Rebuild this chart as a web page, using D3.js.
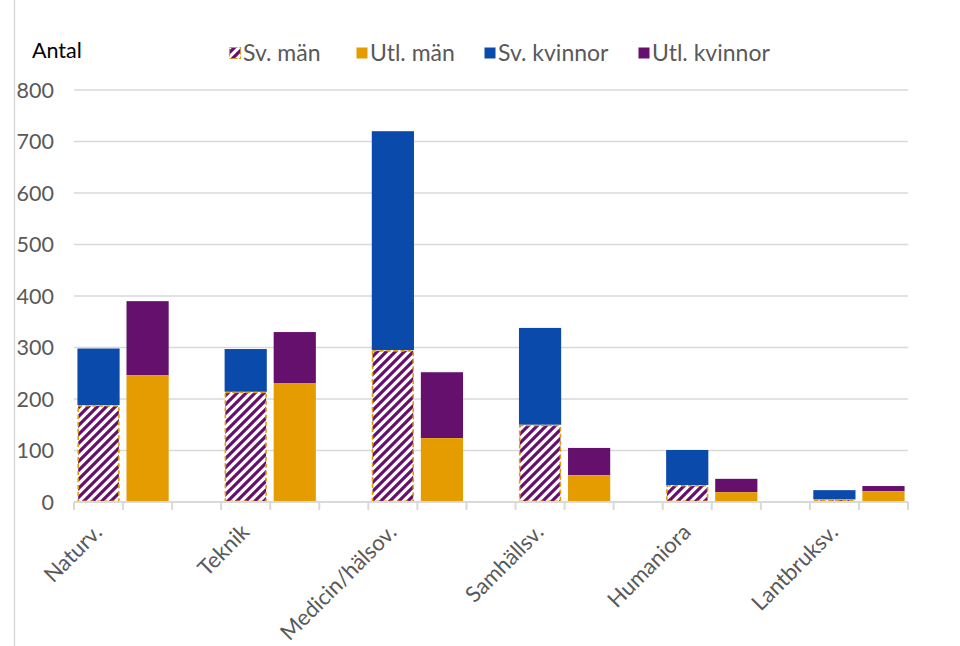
<!DOCTYPE html>
<html>
<head>
<meta charset="utf-8">
<script src="https://cdn.jsdelivr.net/npm/d3@7"></script>
<style>
  body { margin: 0; background: #fff; }
  text { font-family: Lato, "Open Sans", sans-serif; }
</style>
</head>
<body>
<div id="chart"></div>
<script>
var categories = ["Naturv.", "Teknik", "Medicin/hälsov.", "Samhällsv.", "Humaniora", "Lantbruksv."];
var svMan = [188, 214, 295, 150, 33, 5];
var svKvinnor = [110, 83, 425, 188, 68, 18];
var utlMan = [246, 231, 124, 52, 19, 21];
var utlKvinnor = [144, 99, 128, 53, 26, 10];
var yTicks = [0, 100, 200, 300, 400, 500, 600, 700, 800];
var legendLabels = ["Sv. män", "Utl. män", "Sv. kvinnor", "Utl. kvinnor"];

var colors = {orange: "#e59c00", blue: "#0a4aaa", purple: "#66106e"};

var W = 960, H = 646;
var plot = {left: 74, right: 908, top: 90, bottom: 502};

var svg = d3.select("#chart").append("svg")
  .attr("width", W).attr("height", H);

// hatch for "Sv. män"
var defs = svg.append("defs");
var pat = defs.append("pattern")
  .attr("id", "hatch")
  .attr("patternUnits", "userSpaceOnUse")
  .attr("width", 9).attr("height", 9);
pat.append("rect").attr("width", 9).attr("height", 9).attr("fill", "#fff");
pat.append("path")
  .attr("d", "M-1,10 L10,-1 M-4,4 L4,-4 M5,13 L13,5")
  .attr("stroke", colors.purple)
  .attr("stroke-width", 3.2);

// frame line on the left
svg.append("line")
  .attr("x1", 14.5).attr("x2", 14.5).attr("y1", 0).attr("y2", H)
  .attr("stroke", "#d9d9d9").attr("stroke-width", 1.5);

// slots: sv, utl, gap per category (no gap after last)
var slots = [];
categories.forEach(function(c, i) {
  slots.push(i + "-sv", i + "-utl");
  if (i < categories.length - 1) slots.push(i + "-gap");
});

var x = d3.scaleBand()
  .domain(slots)
  .range([plot.left, plot.right])
  .paddingInner(0.14)
  .paddingOuter(0.07);
var step = x.step();

var y = d3.scaleLinear()
  .domain([0, 800])
  .range([plot.bottom, plot.top]);

// gridlines
svg.append("g").selectAll("line")
  .data(yTicks.slice(1))
  .enter().append("line")
  .attr("x1", plot.left).attr("x2", plot.right)
  .attr("y1", function(d) { return y(d); })
  .attr("y2", function(d) { return y(d); })
  .attr("stroke", "#d9d9d9").attr("stroke-width", 1.5);

// y labels
svg.append("g").selectAll("text")
  .data(yTicks)
  .enter().append("text")
  .attr("x", 54)
  .attr("y", function(d) { return y(d); })
  .attr("dy", "0.35em")
  .attr("text-anchor", "end")
  .attr("fill", "#595959")
  .attr("font-size", 21.5)
  .text(function(d) { return d; });

svg.append("text")
  .attr("x", 32).attr("y", 50)
  .attr("dy", "0.35em")
  .attr("font-size", 21.5)
  .attr("fill", "#000")
  .text("Antal");

// bars
var bars = svg.append("g");
categories.forEach(function(c, i) {
  var xs = x(i + "-sv"), xu = x(i + "-utl"), bw = x.bandwidth();
  // Sv. kvinnor on top of Sv. män
  bars.append("rect")
    .attr("x", xs).attr("width", bw)
    .attr("y", y(svMan[i] + svKvinnor[i]))
    .attr("height", y(svMan[i]) - y(svMan[i] + svKvinnor[i]))
    .attr("fill", colors.blue);
  bars.append("rect")
    .attr("x", xs + 0.75).attr("width", bw - 1.5)
    .attr("y", y(svMan[i]) + 0.75)
    .attr("height", Math.max(0, y(0) - y(svMan[i]) - 1.5))
    .attr("fill", "url(#hatch)")
    .attr("stroke", colors.orange)
    .attr("stroke-width", 1.6)
    .attr("stroke-dasharray", "4,3");
  // Utl.
  bars.append("rect")
    .attr("x", xu).attr("width", bw)
    .attr("y", y(utlMan[i] + utlKvinnor[i]))
    .attr("height", y(utlMan[i]) - y(utlMan[i] + utlKvinnor[i]))
    .attr("fill", colors.purple);
  bars.append("rect")
    .attr("x", xu).attr("width", bw)
    .attr("y", y(utlMan[i]))
    .attr("height", y(0) - y(utlMan[i]))
    .attr("fill", colors.orange);
});

// x axis line and tick marks at slot boundaries
var bounds = slots.map(function(s) { return x(s) - step * x.paddingInner() / 2; });
bounds.push(plot.right);
svg.append("line")
  .attr("x1", plot.left).attr("x2", plot.right)
  .attr("y1", y(0)).attr("y2", y(0))
  .attr("stroke", "#d9d9d9").attr("stroke-width", 2);
svg.append("g").selectAll("line")
  .data(bounds)
  .enter().append("line")
  .attr("x1", function(d) { return d; }).attr("x2", function(d) { return d; })
  .attr("y1", y(0)).attr("y2", y(0) + 8)
  .attr("stroke", "#d9d9d9").attr("stroke-width", 2);

// category labels
svg.append("g").selectAll("text")
  .data(categories)
  .enter().append("text")
  .attr("transform", function(d, i) {
    var cx = x(i + "-utl") - step * x.paddingInner() / 2;
    return "translate(" + (cx - 25) + "," + (y(0) + 26) + ") rotate(-45)";
  })
  .attr("text-anchor", "end")
  .attr("dy", "0.35em")
  .attr("font-size", 22)
  .attr("fill", "#595959")
  .text(function(d) { return d; });

// legend
var legendX = [229, 356, 484, 638];
var legendFill = ["url(#hatch)", colors.orange, colors.blue, colors.purple];
var lg = svg.append("g").selectAll("g")
  .data(legendLabels)
  .enter().append("g")
  .attr("transform", function(d, i) { return "translate(" + legendX[i] + ",53)"; });
lg.append("rect")
  .attr("x", 0.5).attr("y", -5.5)
  .attr("width", 11).attr("height", 11)
  .attr("fill", function(d, i) { return legendFill[i]; })
  .attr("stroke", function(d, i) { return i === 0 ? colors.orange : "none"; })
  .attr("stroke-width", 1.2)
  .attr("stroke-dasharray", "3,2");
lg.append("text")
  .attr("x", 14).attr("dy", "0.35em")
  .attr("font-size", 23)
  .attr("fill", "#595959")
  .text(function(d) { return d; });
</script>
</body>
</html>
